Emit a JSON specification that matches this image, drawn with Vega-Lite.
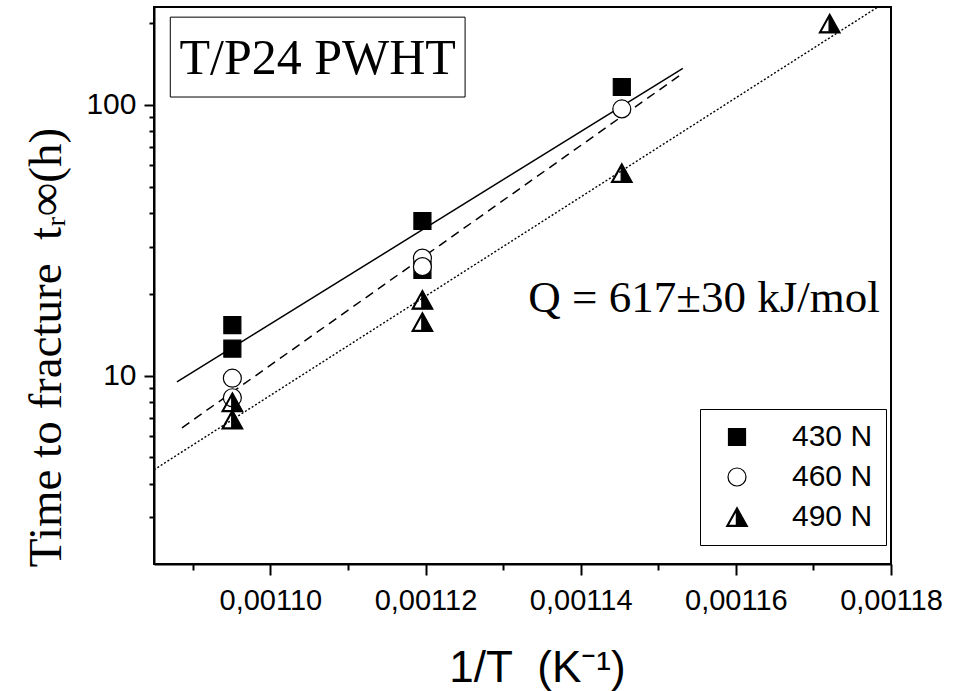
{
  "$schema": "https://vega.github.io/schema/vega-lite/v6.json",
  "width": 737,
  "height": 557,
  "autosize": {"type": "none"},
  "padding": {"left": 154, "top": 7, "right": 77, "bottom": 127},
  "background": "white",
  "config": {
    "view": {"stroke": "black", "strokeWidth": 2},
    "axis": {
      "grid": false,
      "domainColor": "black",
      "domainWidth": 2,
      "tickColor": "black",
      "tickWidth": 2,
      "labelColor": "black",
      "titleColor": "black",
      "labelFont": "Arial",
      "labelFontSize": 29,
      "titleFontWeight": "normal",
      "labelFlush": false,
      "labelOverlap": false
    }
  },
  "datasets": {
    "points": [
      {"load": "430 N", "inv_T": 0.0010951, "t_r": 15.4},
      {"load": "430 N", "inv_T": 0.0010951, "t_r": 12.6},
      {"load": "430 N", "inv_T": 0.0011196, "t_r": 37.3},
      {"load": "430 N", "inv_T": 0.0011196, "t_r": 24.6},
      {"load": "430 N", "inv_T": 0.0011453, "t_r": 116.5},
      {"load": "460 N", "inv_T": 0.0010951, "t_r": 9.8},
      {"load": "460 N", "inv_T": 0.0010951, "t_r": 8.3},
      {"load": "460 N", "inv_T": 0.0011196, "t_r": 27.2},
      {"load": "460 N", "inv_T": 0.0011196, "t_r": 25.3},
      {"load": "460 N", "inv_T": 0.0011453, "t_r": 96.7},
      {"load": "490 N", "inv_T": 0.0010951, "t_r": 8.0},
      {"load": "490 N", "inv_T": 0.0010951, "t_r": 6.9},
      {"load": "490 N", "inv_T": 0.0011196, "t_r": 19.1},
      {"load": "490 N", "inv_T": 0.0011196, "t_r": 15.8},
      {"load": "490 N", "inv_T": 0.0011453, "t_r": 56.1},
      {"load": "490 N", "inv_T": 0.0011721, "t_r": 200}
    ],
    "fits": [
      {"load": "430 N", "inv_T": 0.00108796, "t_r": 9.5},
      {"load": "430 N", "inv_T": 0.00115317, "t_r": 136.6},
      {"load": "460 N", "inv_T": 0.00108861, "t_r": 6.43},
      {"load": "460 N", "inv_T": 0.00115317, "t_r": 131},
      {"load": "490 N", "inv_T": 0.001085, "t_r": 4.5},
      {"load": "490 N", "inv_T": 0.00118, "t_r": 247}
    ]
  },
  "layer": [
    {
      "data": {"name": "fits"},
      "transform": [{"filter": "datum.load === '430 N'"}],
      "mark": {"type": "line", "color": "black", "strokeWidth": 1.5, "clip": true},
      "encoding": {
        "x": {
          "field": "inv_T", "type": "quantitative",
          "scale": {"domain": [0.001085, 0.00118], "nice": false, "zero": false},
          "axis": {
            "orient": "bottom",
            "values": [0.0011, 0.00112, 0.00114, 0.00116, 0.00118],
            "labelExpr": "replace(format(datum.value, '.5f'), '.', ',')",
            "tickSize": 11,
            "labelPadding": 11,
            "title": "1/T\u00a0 (K⁻¹)",
            "titleFont": "Arial",
            "titleFontSize": 44,
            "titleX": 383,
            "titleY": 117,
            "titleAlign": "center",
            "titleBaseline": "alphabetic"
          }
        },
        "y": {
          "field": "t_r", "type": "quantitative",
          "scale": {"type": "log", "domain": [2.02, 230], "nice": false},
          "axis": {
            "orient": "left",
            "values": [10, 100],
            "labelExpr": "format(datum.value, 'd')",
            "labelFontSize": 30,
            "tickSize": 10,
            "labelPadding": 8,
            "title": "Time to fracture\u00a0 tᵣ∞(h)",
            "titleFont": "Liberation Serif",
            "titleFontSize": 47,
            "titleAngle": -90,
            "titleX": -94,
            "titleY": 340,
            "titleAlign": "center",
            "titleBaseline": "alphabetic"
          }
        }
      }
    },
    {
      "data": {"name": "fits"},
      "transform": [{"filter": "datum.load === '460 N'"}],
      "mark": {"type": "line", "color": "black", "strokeWidth": 1.5, "strokeDash": [9, 6], "clip": true},
      "encoding": {
        "x": {"field": "inv_T", "type": "quantitative", "scale": {"domain": [0.001085, 0.00118], "nice": false, "zero": false}, "axis": null},
        "y": {"field": "t_r", "type": "quantitative", "scale": {"type": "log", "domain": [2.02, 230], "nice": false}, "axis": null}
      }
    },
    {
      "data": {"name": "fits"},
      "transform": [{"filter": "datum.load === '490 N'"}],
      "mark": {"type": "line", "color": "black", "strokeWidth": 1.4, "strokeDash": [2, 2], "clip": true},
      "encoding": {
        "x": {"field": "inv_T", "type": "quantitative", "scale": {"domain": [0.001085, 0.00118], "nice": false, "zero": false}, "axis": null},
        "y": {"field": "t_r", "type": "quantitative", "scale": {"type": "log", "domain": [2.02, 230], "nice": false}, "axis": null}
      }
    },
    {
      "data": {"name": "points"},
      "mark": {"type": "point", "filled": true, "strokeWidth": 1.2, "opacity": 1, "size": 441},
      "encoding": {
        "x": {
          "field": "inv_T", "type": "quantitative",
          "scale": {"domain": [0.001085, 0.00118], "nice": false, "zero": false},
          "axis": {
            "orient": "bottom",
            "values": [0.00109, 0.00111, 0.00113, 0.00115, 0.00117],
            "tickSize": 6,
            "labels": false,
            "domain": false,
            "title": null
          }
        },
        "y": {
          "field": "t_r", "type": "quantitative",
          "scale": {"type": "log", "domain": [2.02, 230], "nice": false},
          "axis": {
            "orient": "left",
            "values": [3, 4, 5, 6, 7, 8, 9, 20, 30, 40, 50, 60, 70, 80, 90, 200],
            "tickSize": 5,
            "labels": false,
            "domain": false,
            "title": null
          }
        },
        "shape": {
          "field": "load", "type": "nominal",
          "scale": {
            "domain": ["430 N", "460 N", "490 N"],
            "range": [
              "M-0.81,-0.81L0.81,-0.81L0.81,0.81L-0.81,0.81Z",
              "M-0.857,0A0.857,0.857,0,1,1,0.857,0A0.857,0.857,0,1,1,-0.857,0Z",
              "M0,-0.9L1,0.9L-1,0.9Z M-0.06,-0.63L-0.854,0.8L-0.06,0.8Z"
            ]
          },
          "legend": {
            "title": null, "orient": "none", "legendX": 546, "legendY": 402,
            "padding": 13, "rowPadding": 10, "labelOffset": 40, "symbolOffset": 9,
            "strokeColor": "black", "fillColor": "white",
            "labelFont": "Arial", "labelFontSize": 30, "labelColor": "black",
            "symbolSize": 441, "symbolStrokeColor": "black", "symbolStrokeWidth": 1.2
          }
        },
        "fill": {
          "field": "load", "type": "nominal",
          "scale": {"domain": ["430 N", "460 N", "490 N"], "range": ["black", "white", "black"]},
          "legend": {
            "title": null, "orient": "none", "legendX": 546, "legendY": 402,
            "padding": 13, "rowPadding": 10, "labelOffset": 40, "symbolOffset": 9,
            "strokeColor": "black", "fillColor": "white",
            "labelFont": "Arial", "labelFontSize": 30, "labelColor": "black",
            "symbolSize": 441, "symbolStrokeColor": "black", "symbolStrokeWidth": 1.2
          }
        },
        "stroke": {
          "field": "load", "type": "nominal",
          "scale": {"domain": ["430 N", "460 N", "490 N"], "range": ["black", "black", "black"]},
          "legend": {
            "title": null, "orient": "none", "legendX": 546, "legendY": 402,
            "padding": 13, "rowPadding": 10, "labelOffset": 40, "symbolOffset": 9,
            "strokeColor": "black", "fillColor": "white",
            "labelFont": "Arial", "labelFontSize": 30, "labelColor": "black",
            "symbolSize": 441, "symbolStrokeColor": "black", "symbolStrokeWidth": 1.2
          }
        }
      }
    },
    {
      "data": {"values": [{}]},
      "mark": {"type": "rect", "fill": "white", "stroke": "black", "strokeWidth": 1},
      "encoding": {
        "x": {"datum": 0.0010871, "type": "quantitative", "scale": {"domain": [0.001085, 0.00118], "nice": false, "zero": false}, "axis": null},
        "x2": {"datum": 0.0011251},
        "y": {"datum": 211, "type": "quantitative", "scale": {"type": "log", "domain": [2.02, 230], "nice": false}, "axis": null},
        "y2": {"datum": 107}
      }
    },
    {
      "data": {"values": [{}]},
      "mark": {"type": "text", "text": "T/P24 PWHT", "font": "Liberation Serif", "fontSize": 50, "align": "center", "baseline": "alphabetic", "color": "black"},
      "encoding": {
        "x": {"datum": 0.0011061, "type": "quantitative", "scale": {"domain": [0.001085, 0.00118], "nice": false, "zero": false}, "axis": null},
        "y": {"datum": 130, "type": "quantitative", "scale": {"type": "log", "domain": [2.02, 230], "nice": false}, "axis": null}
      }
    },
    {
      "data": {"values": [{}]},
      "mark": {"type": "text", "text": "Q = 617±30 kJ/mol", "font": "Liberation Serif", "fontSize": 45, "align": "center", "baseline": "alphabetic", "color": "black"},
      "encoding": {
        "x": {"datum": 0.0011559, "type": "quantitative", "scale": {"domain": [0.001085, 0.00118], "nice": false, "zero": false}, "axis": null},
        "y": {"datum": 17.2, "type": "quantitative", "scale": {"type": "log", "domain": [2.02, 230], "nice": false}, "axis": null}
      }
    }
  ],
  "resolve": {"axis": {"x": "independent", "y": "independent"}}
}
